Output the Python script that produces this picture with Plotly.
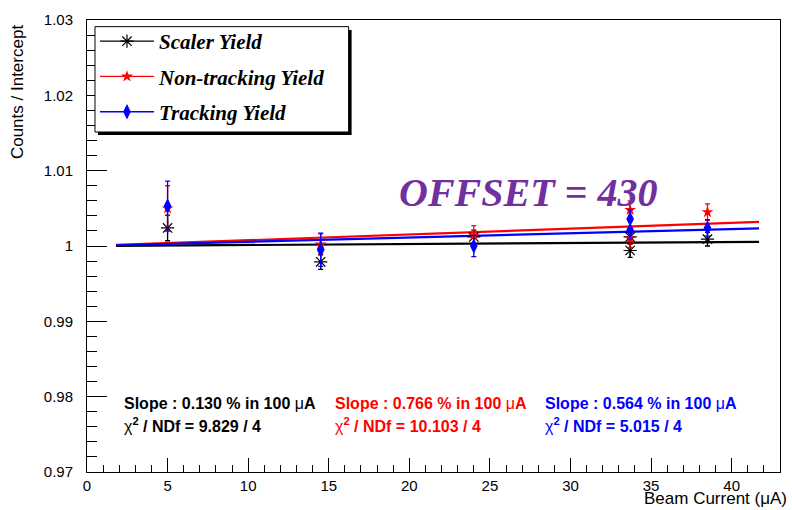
import plotly.graph_objects as go

# Beam current scan, yields normalised to the fit intercept
current = [5.0, 14.5, 24.0, 33.7, 33.7, 38.5]

scaler_yield = [1.0024, 0.9979, 1.0012, 1.0012, 0.9994, 1.0009]
scaler_err = [0.0017, 0.0010, 0.0009, 0.0009, 0.0009, 0.0009]

nontrack_yield = [1.0050, 1.0002, 1.0014, 1.0048, 1.0010, 1.0045]
nontrack_err = [0.0030, 0.0014, 0.0013, 0.0012, 0.0012, 0.0011]

track_yield = [1.0053, 0.9995, 1.0000, 1.0036, 1.0021, 1.0024]
track_err = [0.0033, 0.0022, 0.0014, 0.0012, 0.0012, 0.0011]

# Linear fit results: slope in % per 100 uA, chi2 / ndf
series_names = ["Scaler Yield", "Non-tracking Yield", "Tracking Yield"]
slopes_pct = [0.130, 0.766, 0.564]
chi2 = [9.829, 10.103, 5.015]
ndf = [4, 4, 4]
fit_range = [1.8, 41.7]

colors = ["#000000", "#ff0000", "#0000ff"]
symbols = ["asterisk-open", "star", "diamond-tall"]
msizes = [11, 9, 11]

yields = [scaler_yield, nontrack_yield, track_yield]
errors = [scaler_err, nontrack_err, track_err]

# plot-area frame in pixels
x0_px, x1_px, y0_px, y1_px = 87, 781, 16, 472


def px_x(px):
    return (px - x0_px) / (x1_px - x0_px)


def px_y(py):
    return (y1_px - py) / (y1_px - y0_px)


def marker_style(i):
    m = dict(symbol=symbols[i], size=msizes[i], color=colors[i])
    if symbols[i] == "asterisk-open":
        m["line"] = dict(color=colors[i], width=1.2)
    else:
        m["line"] = dict(width=0)
    return m


fig = go.Figure()

for i in range(3):
    # fitted line: 1 + slope * I  (slope given in % per 100 uA)
    k = slopes_pct[i] / 100.0 / 100.0
    fig.add_trace(go.Scatter(
        x=fit_range, y=[1 + k * x for x in fit_range], mode="lines",
        line=dict(color=colors[i], width=2.2), showlegend=False, hoverinfo="skip"))

for i in range(3):
    fig.add_trace(go.Scatter(
        x=current, y=yields[i], mode="markers", marker=marker_style(i),
        error_y=dict(type="data", array=errors[i], color=colors[i],
                     thickness=1.3, width=2.5),
        showlegend=False))

# legend entries: line with marker
for i in range(3):
    fig.add_trace(go.Scatter(
        x=[None], y=[None], mode="lines+markers", name=series_names[i],
        line=dict(color=colors[i], width=1.3), marker=marker_style(i),
        legendgroup=str(i), showlegend=True))

annotations = []
col_x = [122, 333, 544]
stat_font = dict(family="Liberation Sans", size=16, weight="bold")

for i in range(3):
    annotations.append(dict(
        x=px_x(col_x[i]), y=px_y(403), xref="paper", yref="paper",
        xanchor="left", yanchor="middle", showarrow=False,
        text=f"Slope : {slopes_pct[i]:.3f} % in 100 <span style='font-weight:normal'>\u03bc</span>A",
        font=dict(color=colors[i], **stat_font)))
    annotations.append(dict(
        x=px_x(col_x[i]), y=px_y(425), xref="paper", yref="paper",
        xanchor="left", yanchor="middle", showarrow=False,
        text=f"<span style='font-weight:normal'>\u03c7</span><sup>2</sup> / NDf = {chi2[i]:.3f} / {ndf[i]}",
        font=dict(color=colors[i], **stat_font)))

annotations.append(dict(
    x=px_x(397), y=px_y(190), xref="paper", yref="paper",
    xanchor="left", yanchor="middle", showarrow=False,
    text="OFFSET = 430",
    font=dict(family="Liberation Serif", size=40, color="#7030a0",
              weight="bold", style="italic")))

annotations.append(dict(
    x=px_x(18), y=px_y(19), xref="paper", yref="paper", xanchor="center", yanchor="top",
    showarrow=False, textangle=-90, text="Counts / Intercept",
    font=dict(family="Liberation Sans", size=17, color="black")))
annotations.append(dict(
    x=px_x(790), y=px_y(499), xref="paper", yref="paper", xanchor="right",
    yanchor="middle", showarrow=False, text="Beam Current (\u03bcA)",
    font=dict(family="Liberation Sans", size=17, color="black")))

# legend frame with drop shadow
shapes = [
    dict(type="rect", xref="paper", yref="paper", layer="above",
         x0=px_x(98), x1=px_x(352), y0=px_y(26), y1=px_y(132),
         fillcolor="black", line=dict(width=0)),
    dict(type="rect", xref="paper", yref="paper", layer="above",
         x0=px_x(95), x1=px_x(349), y0=px_y(22.7), y1=px_y(129),
         fillcolor="white", line=dict(color="black", width=1)),
]

axis_common = dict(showgrid=False, zeroline=False, showline=True, mirror=True,
                   linecolor="black", linewidth=1, ticks="inside",
                   tickcolor="black", tickwidth=1,
                   tickfont=dict(family="Liberation Sans", size=15, color="black"))

fig.update_layout(
    width=792, height=510,
    margin=dict(l=x0_px, r=792 - x1_px, t=y0_px, b=510 - y1_px),
    paper_bgcolor="white", plot_bgcolor="white",
    xaxis=dict(range=[0, 43], dtick=5, tick0=0, ticklen=14,
               minor=dict(dtick=1, ticklen=7, ticks="inside", tickcolor="black"),
               **axis_common),
    yaxis=dict(range=[0.97, 1.03], dtick=0.01, tick0=0.97, ticklen=20,
               tickformat="~g", ticklabelstandoff=10,
               minor=dict(dtick=0.002, ticklen=10, ticks="inside", tickcolor="black"),
               **axis_common),
    legend=dict(x=px_x(95), y=px_y(17), xanchor="left", yanchor="top",
                bgcolor="rgba(0,0,0,0)", borderwidth=0,
                font=dict(family="Liberation Serif", size=21, color="black",
                          weight="bold", style="italic"),
                tracegroupgap=5, itemwidth=54),
    shapes=shapes,
    annotations=annotations,
    showlegend=True,
)

fig.write_html("out.html")
